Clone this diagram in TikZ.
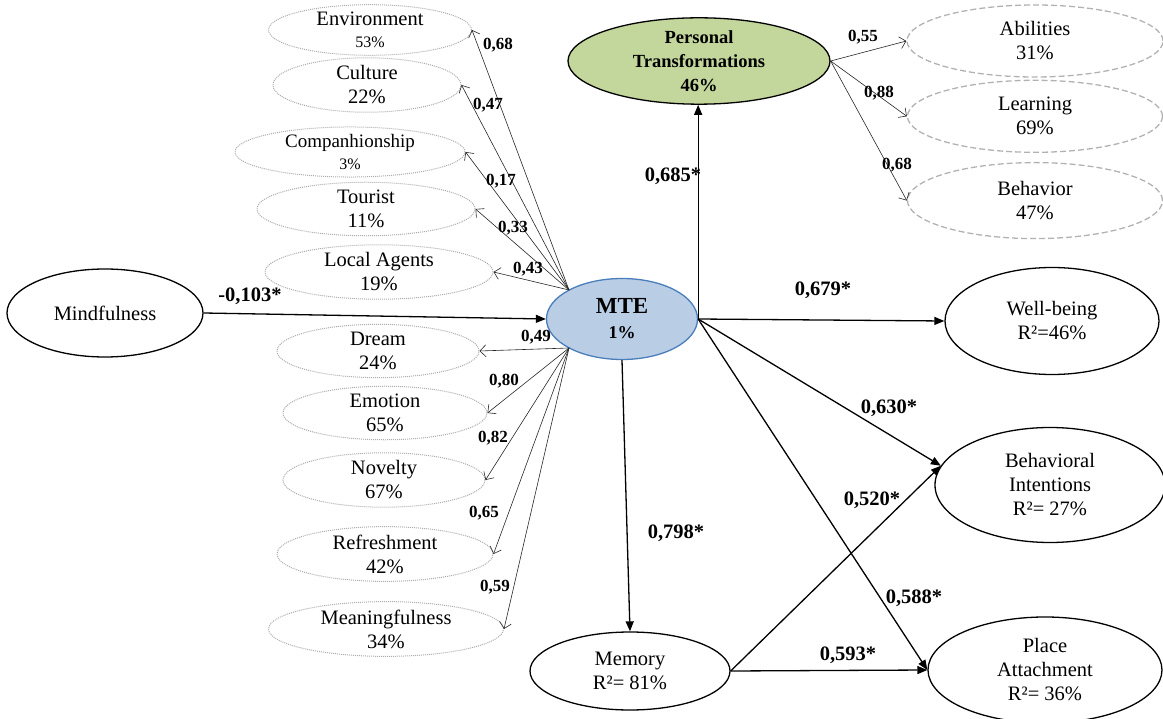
\documentclass[tikz,border=0pt]{standalone}
\usepackage{fontspec}
\setmainfont{Liberation Serif}
\usetikzlibrary{shapes.geometric,arrows.meta,positioning,calc}
\definecolor{mteblue}{HTML}{B9CDE5}
\definecolor{mteedge}{HTML}{4A7EBB}
\definecolor{ptgreen}{HTML}{C3D69B}
\newcommand{\Rsq}{R²}
\newcommand{\smallpct}[1]{{\fontsize{16}{18}\selectfont #1}}

\begin{document}
\begin{tikzpicture}[x=1pt,y=-1pt,every node/.style={font=\fontsize{20.5}{24}\selectfont},
  ind/.style={ellipse,draw=gray!65,dash pattern=on 1pt off 1pt,line width=1pt,inner sep=0pt,align=center},
  indpt/.style={ellipse,draw=gray!60,dash pattern=on 6pt off 3pt,line width=1.3pt,inner sep=0pt,align=center},
  lat/.style={ellipse,draw,line width=1.3pt,inner sep=0pt,align=center},
  ld/.style={-{Straight Barb[length=6pt,width=12pt]},black!85,line width=0.6pt},
  arr/.style={-{Triangle[length=10pt,width=8pt]},line width=1.3pt},
  wt/.style={font=\fontsize{17}{20}\selectfont\bfseries},
  cf/.style={font=\fontsize{20.5}{24}\selectfont\bfseries}]
\useasboundingbox (0,0) rectangle (1163,719);

% latent constructs
\node[lat,minimum width=196pt,minimum height=88pt] (mind) at (105,313) {Mindfulness};
\node[lat,draw=mteedge,fill=mteblue,minimum width=151pt,minimum height=81pt,font=\fontsize{23}{25}\selectfont\bfseries] (mte) at (622,319) {MTE\\{\fontsize{18}{20}\selectfont 1\%}};
\node[lat,fill=ptgreen,minimum width=262pt,minimum height=81pt,font=\fontsize{18.5}{24}\selectfont\bfseries] (pt) at (699,61) {Personal\\Transformations\\46\%};
\node[lat,minimum width=214pt,minimum height=107pt] (wb) at (1052,321) {Well-being\\\Rsq=46\%};
\node[lat,minimum width=230pt,minimum height=115pt] (bi) at (1050,485) {Behavioral\\Intentions\\\Rsq= 27\%};
\node[lat,minimum width=234pt,minimum height=106pt] (pa) at (1045,670) {Place\\Attachment\\\Rsq= 36\%};
\node[lat,minimum width=200pt,minimum height=78pt] (mem) at (630,671) {Memory\\\Rsq= 81\%};

% MTE dimensions
\node[ind,minimum width=203pt,minimum height=46pt] (env) at (370,30) {Environment\\[-2pt]\smallpct{53\%}};
\node[ind,minimum width=188pt,minimum height=44pt] (cult) at (367,85) {Culture\\22\%};
\node[ind,minimum width=230pt,minimum height=49pt] (comp) at (350,152) {{\fontsize{19}{22}\selectfont Companhionship}\\[-2pt]\smallpct{3\%}};
\node[ind,minimum width=218pt,minimum height=48pt] (tour) at (366,209) {Tourist\\11\%};
\node[ind,minimum width=228pt,minimum height=49pt] (agent) at (379,272) {Local Agents\\19\%};
\node[ind,minimum width=202pt,minimum height=47pt] (dream) at (378,351) {Dream\\24\%};
\node[ind,minimum width=204pt,minimum height=47pt] (emo) at (385,413) {Emotion\\65\%};
\node[ind,minimum width=202pt,minimum height=50pt] (nov) at (384,480) {Novelty\\67\%};
\node[ind,minimum width=216pt,minimum height=48pt] (refr) at (385,554) {Refreshment\\42\%};
\node[ind,minimum width=235pt,minimum height=52pt] (mean) at (386,629) {Meaningfulness\\34\%};

% personal transformation dimensions
\node[indpt,minimum width=256pt,minimum height=72pt] (abil) at (1035,41) {Abilities\\31\%};
\node[indpt,minimum width=255pt,minimum height=72pt,below=2pt of abil] (learn) {Learning\\69\%};
\node[indpt,minimum width=255pt,minimum height=76pt,below=9pt of learn] (behav) {Behavior\\47\%};

\coordinate (hubU) at ($(mte.center)+(-53,-29)$);
\coordinate (hubD) at ($(mte.center)+(-53,29)$);

% loadings
\draw[ld] (hubU) -- (env.east);
\draw[ld] (hubU) -- (cult.east);
\draw[ld] (hubU) -- (comp.east);
\draw[ld] (hubU) -- (tour.east);
\draw[ld] (hubU) -- (agent.east);
\draw[ld] (hubD) -- (dream.east);
\draw[ld] (hubD) -- (emo.east);
\draw[ld] (hubD) -- (nov.east);
\draw[ld] (hubD) -- (refr.east);
\draw[ld] (hubD) -- (mean.east);
\draw[ld] (pt.east) -- (abil.west);
\draw[ld] (pt.east) -- (learn.west);
\draw[ld] (pt.east) -- (behav.west);

\node[wt] (wEnv) at (498,45) {0,68};
\node[wt] (wCult) at (488,105) {0,47};
\node[wt] (wComp) at (501,181) {0,17};
\node[wt] (wTour) at (513,228) {0,33};
\node[wt] (wAgent) at (528,269) {0,43};
\node[wt] (wDream) at (536,337) {0,49};
\node[wt] (wEmo) at (504,381) {0,80};
\node[wt] (wNov) at (493,438) {0,82};
\node[wt] (wRefr) at (484,513) {0,65};
\node[wt] (wMean) at (495,587) {0,59};
\node[wt] (wAbil) at (863,37) {0,55};
\node[wt] (wLearn) at (879,93) {0,88};
\node[wt] (wBehav) at (897,165) {0,68};

% structural paths
\draw[arr] (mind.east) -- (mte.west);
\draw[arr] (mte.east) -- (mte.east |- pt.south);
\draw[arr] (mte.east) -- (wb.west);
\draw[arr] (mte.east) -- (bi.170);
\draw[arr] (mte.east) -- (pa.west);
\draw[arr] (mte.south) -- (mem.north);
\draw[arr] (mem.east) -- (bi.170);
\draw[arr] (mem.east) -- (pa.west);

\node[cf] (cMind) at (250,296) {-0,103*};
\node[cf] (cPT) at (673,176) {0,685*};
\node[cf] (cWB) at (823,290) {0,679*};
\node[cf] (cBI) at (889,408) {0,630*};
\node[cf] (cMemBI) at (872,500) {0,520*};
\node[cf] (cMem) at (676,533) {0,798*};
\node[cf] (cPA) at (914,598) {0,588*};
\node[cf] (cMemPA) at (848,655) {0,593*};
\end{tikzpicture}
\end{document}
